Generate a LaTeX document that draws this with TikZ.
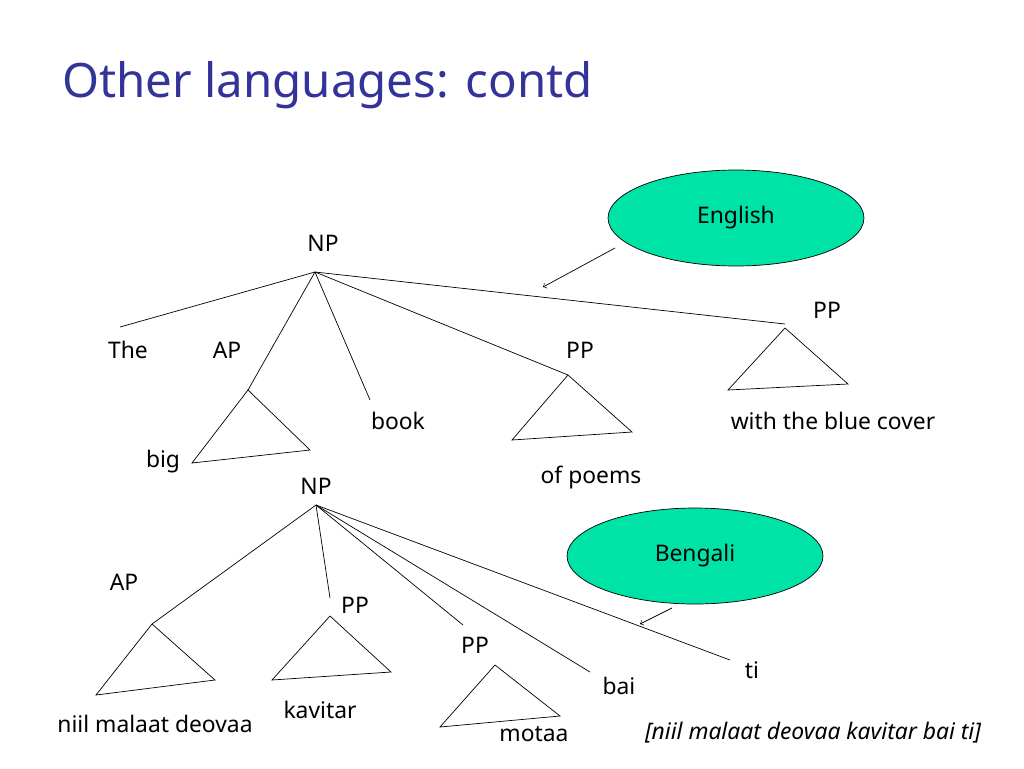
\documentclass[tikz,border=0pt]{standalone}
\usepackage{fontspec}
\setmainfont{Noto Sans}
\usetikzlibrary{shapes.geometric}
\definecolor{titleblue}{RGB}{51,51,153}
\definecolor{ovalgreen}{RGB}{0,227,166}
\tikzset{
  lbl/.style={font=\fontsize{13}{15}\selectfont, inner sep=1pt},
  oval/.style={ellipse, draw, fill=ovalgreen, minimum width=5.12cm, minimum height=1.92cm, font=\fontsize{13}{15}\selectfont},
  tri/.style={draw}
}
\begin{document}
\begin{tikzpicture}[x=0.02cm,y=-0.02cm]
        \useasboundingbox (0,0) rectangle (1024,768);
        \node[anchor=base west, text=titleblue, font=\fontsize{27}{30}\selectfont, inner sep=0] (title) at (62,97) {Other languages: contd};

        % ovals
        \node[oval] (eng) at (736,218) {English};
        \node[oval] (ben) at (695,556) {Bengali};
        \coordinate (engtip) at (543,287);
        \coordinate (bentip) at (640,624);
        \draw[->] (615,248) -- (engtip);
        \draw[->] (672,608) -- (bentip);

        % upper tree
        \node[lbl] (np1) at (323,243) {NP};
        \coordinate (top1) at (315,272);
        \node[lbl] (the) at (128,350) {The};
        \node[lbl] (ap1) at (227,350) {AP};
        \node[lbl] (big) at (163,462) {big};
        \node[lbl] (book) at (398,421) {book};
        \node[lbl] (pp1) at (580,350) {PP};
        \node[lbl] (poems) at (591,477) {of poems};
        \node[lbl] (pp2) at (827,310) {PP};
        \node[lbl] (cover) at (833,421) {with the blue cover};
        \coordinate (apA) at (248,390);
        \coordinate (apB) at (568,375);
        \coordinate (apC) at (785,324);
        \draw (top1) -- (120,327);
        \draw (top1) -- (apA);
        \draw (top1) -- (370,400);
        \draw (top1) -- (apB);
        \draw (top1) -- (apC);
        \draw[tri] (apA) -- (192,463) -- (310,450) -- cycle;
        \draw[tri] (apB) -- (512,440) -- (632,432) -- cycle;
        \draw[tri] (785,328) -- (728,390) -- (848,384) -- cycle;

        % lower tree
        \node[lbl] (np2) at (316,486) {NP};
        \coordinate (top2) at (316,505);
        \node[lbl] (ap2) at (124,582) {AP};
        \node[lbl] (niil) at (155,724) {niil malaat deovaa};
        \node[lbl] (pp3) at (355,605) {PP};
        \node[lbl] (kav) at (320,710) {kavitar};
        \node[lbl] (pp4) at (475,645) {PP};
        \node[lbl] (mot) at (534,734) {motaa};
        \node[lbl] (bai) at (619,686) {bai};
        \node[lbl] (ti) at (752,670) {ti};
        \node[lbl, font=\fontsize{13}{15}\selectfont\itshape] (gloss) at (813,733) {[niil malaat deovaa kavitar bai ti]};
        \coordinate (apD) at (152,624);
        \coordinate (apE) at (330,598);
        \coordinate (apF) at (463,625);
        \draw (top2) -- (apD);
        \draw (top2) -- (apE);
        \draw (top2) -- (apF);
        \draw (top2) -- (590,672);
        \draw (top2) -- (730,660);
        \draw[tri] (apD) -- (96,695) -- (215,680) -- cycle;
        \draw[tri] (330,616) -- (272,680) -- (391,672) -- cycle;
        \draw[tri] (495,665) -- (440,727) -- (560,716) -- cycle;
\end{tikzpicture}
\end{document}
